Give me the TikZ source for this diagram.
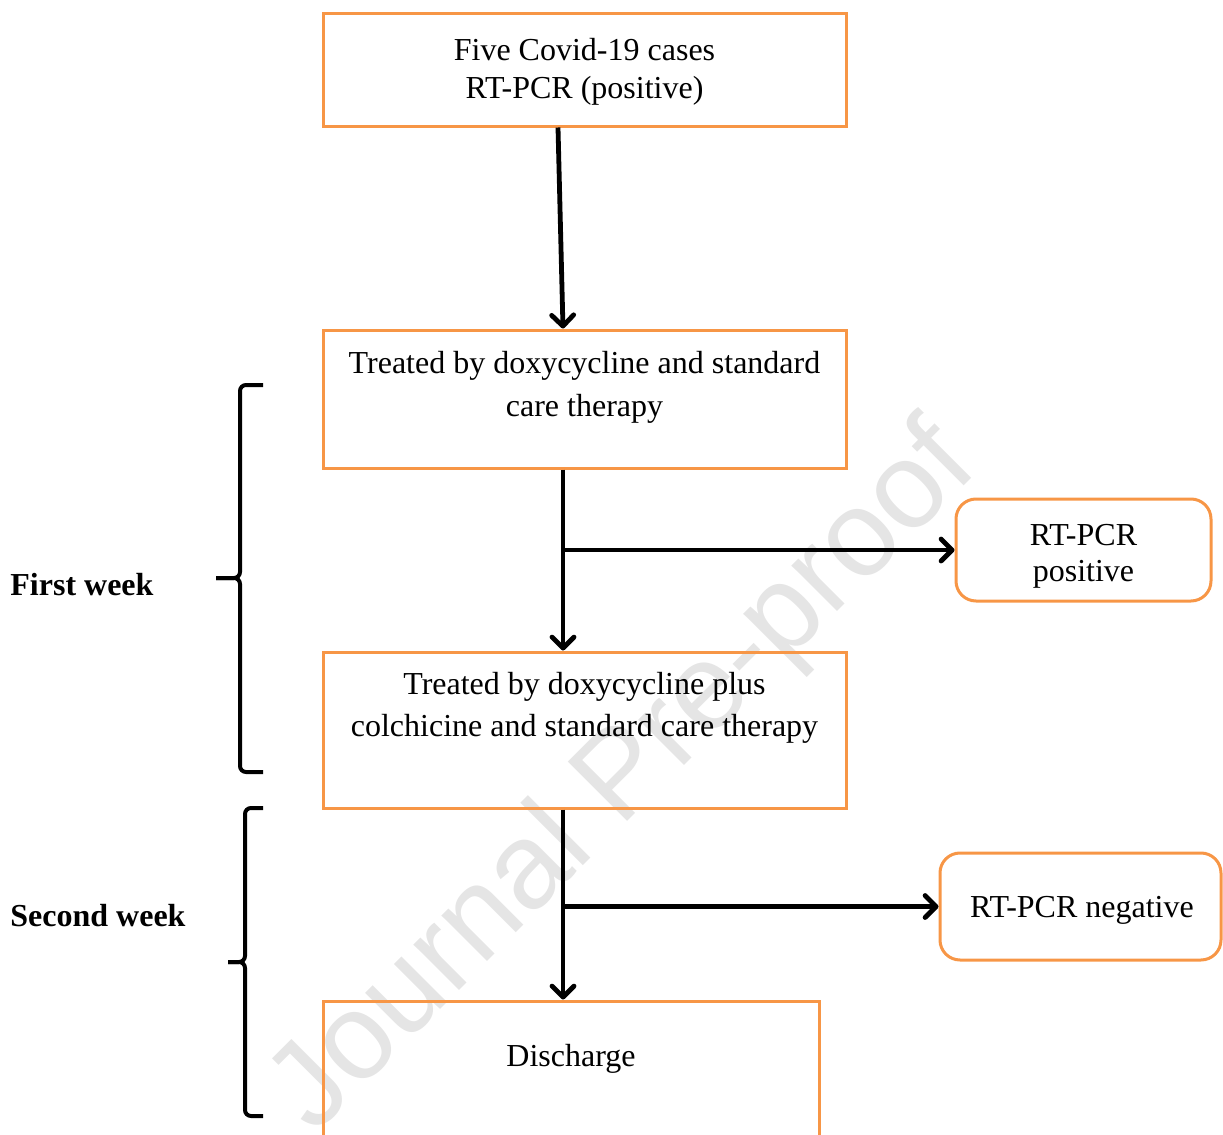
\documentclass[tikz,border=0pt]{standalone}
\usepackage{fontspec}
\setmainfont{Liberation Serif}
\newfontfamily\stampfont{Liberation Sans}
\usepackage{tikz}
\usetikzlibrary{arrows.meta,positioning}
\definecolor{boxorange}{RGB}{247,150,70}

\begin{document}
\begin{tikzpicture}[x=0.5pt,y=-0.5pt,
		casebox/.style={rectangle, draw=boxorange, line width=1.5pt, inner sep=0pt},
		roundbox/.style={rectangle, rounded corners=10pt, draw=boxorange, line width=1.5pt, inner sep=0pt},
		boxtext/.style={align=center, font=\fontsize{16}{19}\selectfont},
		weektext/.style={anchor=west, inner sep=0pt, font=\fontsize{16}{19}\selectfont\bfseries},
		bracket/.style={draw=black, line width=2pt, rounded corners=3pt},
		arrowpath/.style={draw=black, line width=2.4pt, -{Straight Barb[length=5.5pt,width=11pt,round]}}
		]
		\useasboundingbox (0,0) rectangle (1223,1135);

		% Watermark
		\node[rotate=45, text=black!10, font=\stampfont\fontsize{61}{61}\selectfont] (Stamp) at (625,780) {Journal Pre-proof};

		% Boxes
		\node[casebox, minimum width=261.5pt, minimum height=56.5pt] (Cases) at (584.5,69.5) {};
		\node[casebox, minimum width=261.5pt, minimum height=69pt] (Treat1) at (584.5,399) {};
		\node[casebox, minimum width=261.5pt, minimum height=78pt] (Treat2) at (584.5,730) {};
		\node[casebox, minimum width=248pt, minimum height=72pt] (Discharge) at (571,1073) {};
		\node[roundbox, minimum width=127.5pt, minimum height=51pt] (Positive) at (1083.5,550) {};
		\node[roundbox, minimum width=140.5pt, minimum height=53.5pt] (Negative) at (1080.5,906.5) {};

		% Texts
		\node[boxtext] (CasesText) at (584.5,72) {Five Covid-19 cases\\RT-PCR (positive)};
		\node[boxtext, font=\fontsize{16}{21.5}\selectfont] (Treat1Text) at (584.5,387) {Treated by doxycycline and standard\\care therapy};
		\node[boxtext, font=\fontsize{16}{21}\selectfont] (Treat2Text) at (584.5,708) {Treated by doxycycline plus\\colchicine and standard care therapy};
		\node[boxtext] (DischargeText) at (571,1059) {Discharge};
		\node[boxtext, font=\fontsize{16}{18}\selectfont] (PositiveText) at (1083.5,556) {RT-PCR\\positive};
		\node[boxtext] (NegativeText) at (1082,910) {RT-PCR negative};

		% Week labels
		\node[weektext] (FirstWeek) at (10,585) {First week};
		\node[weektext] (SecondWeek) at (10,916) {Second week};

		% Brackets
		\draw[bracket] (263,385) -- (240,385) -- (240,578) -- (216,578);
		\draw[bracket] (216,578) -- (240,578) -- (240,772) -- (263,772);
		\draw[bracket] (263,808) -- (245,808) -- (245,962) -- (228,962);
		\draw[bracket] (228,962) -- (245,962) -- (245,1116) -- (263,1116);

		% Main Paths
		\coordinate (Split1) at (563,550);
		\coordinate (Split2) at (563,906.5);
		\path[arrowpath] ([xshift=-13.25pt]Cases.south) -- ([xshift=-10.75pt]Treat1.north);
		\path[arrowpath] ([xshift=-10.75pt]Treat1.south) -- ([xshift=-10.75pt]Treat2.north);
		\path[arrowpath] ([xshift=-10.75pt]Treat2.south) -- ([xshift=-4pt]Discharge.north);

		% Side results
		\path[arrowpath] (Split1) -- (Positive.west);
		\path[arrowpath] (Split2) -- (Negative.west);
	\end{tikzpicture}
\end{document}
